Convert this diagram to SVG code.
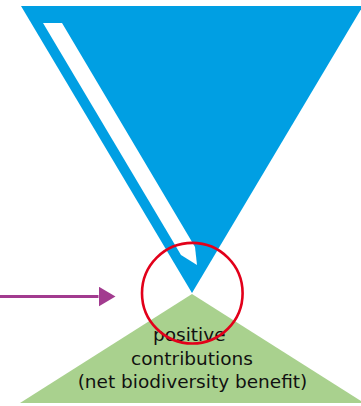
<svg xmlns="http://www.w3.org/2000/svg" width="361" height="406" viewBox="0 0 361 406">
  <defs>
    <marker id="arrowhead" viewBox="0 0 17 20" refX="0" refY="10" markerWidth="17" markerHeight="20" markerUnits="userSpaceOnUse" orient="auto">
      <path d="M0,0 L17,10 L0,20 Z" fill="#a23b8f"/>
    </marker>
  </defs>
  <style>
    .funnel { fill: #009fe3; }
    .stripe { fill: #ffffff; }
    .base { fill: #a9d18e; }
    .ring { fill: none; stroke: #e2001a; stroke-width: 2.6; }
    .label { font-family: "DejaVu Sans", Verdana, sans-serif; font-size: 18.5px; fill: #111111; text-anchor: middle; }
    .link { fill: none; stroke: #a23b8f; stroke-width: 3; }
  </style>

  <!-- inverted blue funnel with a white pencil-shaped stripe -->
  <g id="funnel">
    <polygon class="funnel" points="21,6 363,6 192,293"/>
    <polygon class="stripe" points="43,23 62,23 195,247 197,265 181,255"/>
  </g>

  <!-- green base triangle with its label -->
  <g id="base">
    <polygon class="base" points="192,294 20,403 364,403"/>
    <text class="label" x="189.3" y="340.7">positive</text>
    <text class="label" x="192" y="365">contributions</text>
    <text class="label" x="192.5" y="388.3">(net biodiversity benefit)</text>
  </g>

  <!-- red ring around the meeting point -->
  <g id="focus">
    <circle class="ring" cx="192.3" cy="293.2" r="50.3"/>
  </g>

  <!-- incoming arrow -->
  <g id="connectors">
    <line class="link" x1="0" y1="296.5" x2="98.5" y2="296.5" marker-end="url(#arrowhead)"/>
  </g>
</svg>
